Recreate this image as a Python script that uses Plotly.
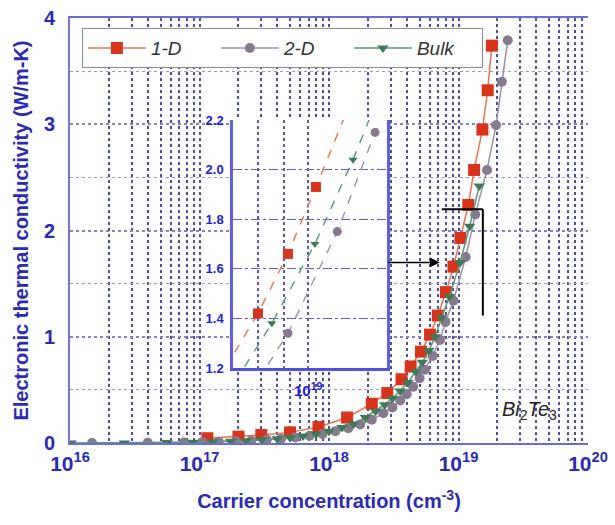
import plotly.graph_objects as go

# Carrier concentration (cm^-3) and electronic thermal conductivity (W/m-K)
conc_1d = [1.15e17, 2.0e17, 3.0e17, 5.0e17, 8.3e17, 1.38e18, 2.14e18, 2.82e18,
           3.63e18, 4.27e18, 5.13e18, 6.03e18, 6.92e18, 8.0e18, 9.14e18,
           1.035e19, 1.19e19, 1.32e19, 1.53e19, 1.68e19, 1.81e19]
kappa_1d = [0.045, 0.06, 0.075, 0.10, 0.15, 0.24, 0.37, 0.47,
            0.60, 0.72, 0.86, 1.02, 1.20, 1.42, 1.66,
            1.93, 2.24, 2.57, 2.95, 3.32, 3.74]

conc_2d = [1.48e16, 3.98e16, 7.59e16, 1.05e17, 1.41e17, 1.91e17, 2.51e17, 3.31e17,
           4.27e17, 5.5e17, 7.08e17, 8.91e17, 1.12e18, 1.41e18, 1.74e18,
           2.14e18, 2.63e18, 3.09e18, 3.55e18, 3.98e18, 4.47e18, 5.01e18,
           5.5e18, 6.31e18, 7.19e18, 7.94e18, 9.14e18, 1.138e19, 1.346e19,
           1.66e19, 1.95e19, 2.16e19, 2.40e19]
kappa_2d = [0.0, 0.002, 0.005, 0.008, 0.012, 0.017, 0.023, 0.03,
            0.04, 0.052, 0.068, 0.085, 0.11, 0.14, 0.175,
            0.22, 0.28, 0.335, 0.40, 0.46, 0.53, 0.61,
            0.69, 0.82, 0.97, 1.14, 1.34, 1.75, 2.15,
            2.57, 2.99, 3.40, 3.79]

conc_bulk = [1.02e16, 2.63e16, 5.62e16, 8.91e16, 1.26e17, 1.74e17, 2.29e17, 3.02e17,
             3.98e17, 5.01e17, 6.31e17, 7.94e17, 1.0e18, 1.26e18, 1.55e18,
             1.91e18, 2.29e18, 2.69e18, 3.09e18, 3.55e18, 4.07e18, 4.68e18,
             5.25e18, 5.89e18, 6.61e18, 7.41e18, 8.51e18, 1.03e19, 1.22e19,
             1.445e19]
kappa_bulk = [0.0, 0.001, 0.004, 0.007, 0.011, 0.016, 0.022, 0.03,
              0.04, 0.05, 0.065, 0.085, 0.11, 0.145, 0.18,
              0.24, 0.30, 0.36, 0.42, 0.49, 0.57, 0.67,
              0.76, 0.87, 1.00, 1.18, 1.38, 1.70, 2.04,
              2.42]

x_decades = [1e16, 1e17, 1e18, 1e19, 1e20]
x_decade_text = ["10<sup>16</sup>", "10<sup>17</sup>", "10<sup>18</sup>",
                 "10<sup>19</sup>", "10<sup>20</sup>"]
y_ticks = [0, 1, 2, 3, 4]
y_half = [0.5, 1.5, 2.5, 3.5]

inset_y_ticks = [1.2, 1.4, 1.6, 1.8, 2.0, 2.2]
inset_x_minor = [8e18, 9e18, 1e19]
inset_x_range_log = [18.855, 19.152]
inset_y_range = [1.2, 2.2]

minor_x = [m * d for d in [1e16, 1e17, 1e18, 1e19] for m in range(2, 10)]

BLUE = "#2a2ab4"
GRID_V = "#4e4ea0"
FONT = "Liberation Sans, Arial, sans-serif"

series = [
    ("1-D", conc_1d, kappa_1d, "square", 12, "#d8341c", "#e5744f", 10),
    ("2-D", conc_2d, kappa_2d, "circle", 10, "#877a8f", "#9a90a6", 9),
    ("Bulk", conc_bulk, kappa_bulk, "triangle-down", 10, "#3e7a58", "#5f957a", 8),
]

fig = go.Figure()

for name, xs, ys, sym, size, mcol, lcol, isize in series:
    fig.add_trace(go.Scatter(
        x=xs, y=ys, name=f"<i>{name}</i>", mode="lines+markers",
        line=dict(color=lcol, width=1.5),
        marker=dict(symbol=sym, size=size, color=mcol),
        xaxis="x", yaxis="y", hoverinfo="skip"))

# empty trace that creates the white backing panel subplot
fig.add_trace(go.Scatter(x=[], y=[], xaxis="x2", yaxis="y2", showlegend=False,
                         hoverinfo="skip"))

# zoomed inset
for name, xs, ys, sym, size, mcol, lcol, isize in series:
    fig.add_trace(go.Scatter(
        x=xs, y=ys, showlegend=False, mode="lines+markers",
        line=dict(color=lcol, width=1.4, dash="dash"),
        marker=dict(symbol=sym, size=isize, color=mcol),
        xaxis="x3", yaxis="y3", hoverinfo="skip", cliponaxis=True))

inset_dom_x = [0.3147, 0.612]
inset_dom_y = [0.1765, 0.76]

fig.update_layout(
    width=615, height=525,
    margin=dict(l=70, r=27, t=18, b=82),
    paper_bgcolor="white", plot_bgcolor="white",
    font=dict(family=FONT, color=BLUE),
    showlegend=True,
    legend=dict(x=0.023, y=0.976, xanchor="left", yanchor="top",
                orientation="h", bgcolor="white", bordercolor="#8a8a8a",
                borderwidth=1, font=dict(size=19, color="#333333", family=FONT),
                entrywidth=60, entrywidthmode="pixels", itemwidth=58),
    xaxis=dict(type="log", range=[16, 20], domain=[0, 1], anchor="y",
               tickvals=x_decades, ticktext=x_decade_text,
               tickfont=dict(size=21, color=BLUE, family=FONT, weight="bold"),
               showgrid=True, gridcolor=GRID_V, griddash="dot", gridwidth=1.5,
               minor=dict(tickvals=minor_x, showgrid=True, gridcolor=GRID_V,
                          griddash="dot", gridwidth=1.5),
               showline=True, linecolor="#6c6cd6", linewidth=2, mirror=True,
               ticks="", ticklabelstandoff=1, zeroline=False,
               title=dict(text="<b>Carrier concentration (cm<sup>-3</sup>)</b>",
                          font=dict(size=20, color=BLUE), standoff=20),
               automargin=False),
    yaxis=dict(range=[0, 4], domain=[0, 1], anchor="x",
               tickvals=y_ticks, ticktext=[str(v) for v in y_ticks],
               tickfont=dict(size=20, color=BLUE, family=FONT, weight="bold"),
               showgrid=True, gridcolor="#8282c4", griddash="dot", gridwidth=1.5,
               minor=dict(tickvals=y_half, showgrid=True, gridcolor="#9a9ad0",
                          griddash="dot", gridwidth=1.4),
               showline=True, linecolor="#7474d4", linewidth=2,
               ticks="", ticklabelstandoff=9, zeroline=False,
               title=dict(text="<b>Electronic thermal conductivity (W/m-K)</b>",
                          font=dict(size=20, color=BLUE), standoff=10),
               automargin=False),
    xaxis2=dict(domain=inset_dom_x, range=[0, 1], anchor="y2", visible=False),
    yaxis2=dict(domain=inset_dom_y, range=[0, 1], anchor="x2", visible=False),
    xaxis3=dict(type="log", range=inset_x_range_log, domain=inset_dom_x, anchor="y3",
                tickvals=[1e19], ticktext=["10<sup>19</sup>"],
                tickfont=dict(size=15, color="#1a1ae0", family=FONT, weight="bold"),
                showgrid=False,
                minor=dict(tickvals=inset_x_minor, showgrid=True, gridcolor="#5a5aa8",
                           griddash="dot", gridwidth=1.5),
                showline=True, linecolor="#5050e6", linewidth=3,
                ticks="", ticklabelstandoff=7, zeroline=False, automargin=False),
    yaxis3=dict(range=inset_y_range, domain=inset_dom_y, anchor="x3",
                tickvals=inset_y_ticks, ticktext=[f"{v:.1f}" for v in inset_y_ticks],
                tickfont=dict(size=13, color="#1a1ae0", family=FONT, weight="bold"),
                showgrid=False,
                minor=dict(tickvals=inset_y_ticks[1:-1], showgrid=True,
                           gridcolor="#5c5cd8", griddash="dashdot", gridwidth=1.4),
                showline=True, linecolor="#6060dc", linewidth=2.5, mirror=True,
                ticks="", ticklabelstandoff=4, zeroline=False, automargin=False),
)

# white backing panel of the inset
fig.add_shape(type="rect", xref="x2", yref="y2", x0=0, x1=1, y0=0, y1=1,
              fillcolor="white", line=dict(width=0), layer="below")

# bracket marking the zoomed region on the main curve
bracket_x = [(inset_x_range_log[0] - 16) / 4 + 0.004, 0.797]
fig.add_shape(type="line", xref="paper", yref="y", x0=bracket_x[0], x1=bracket_x[1],
              y0=inset_y_range[1], y1=inset_y_range[1], line=dict(color="black", width=2))
fig.add_shape(type="line", xref="paper", yref="y", x0=bracket_x[1], x1=bracket_x[1],
              y0=inset_y_range[1], y1=inset_y_range[0], line=dict(color="black", width=2))

# arrow from the inset to the zoomed region
fig.add_annotation(x=inset_x_range_log[0], y=1.70, xref="x", yref="y",
                   ax=16 + 4 * inset_dom_x[1], ay=1.70, axref="x", ayref="y",
                   showarrow=True, arrowhead=2, arrowsize=1.3, arrowwidth=1.5,
                   arrowcolor="black", text="")

fig.add_annotation(x=19.32, y=0.31, xref="x", yref="y", xanchor="left",
                   showarrow=False,
                   text="<i>Bi</i><sub>2</sub><i>Te</i><sub>3</sub>",
                   font=dict(size=20, color="#222222", family=FONT))

fig.write_html("out.html")
